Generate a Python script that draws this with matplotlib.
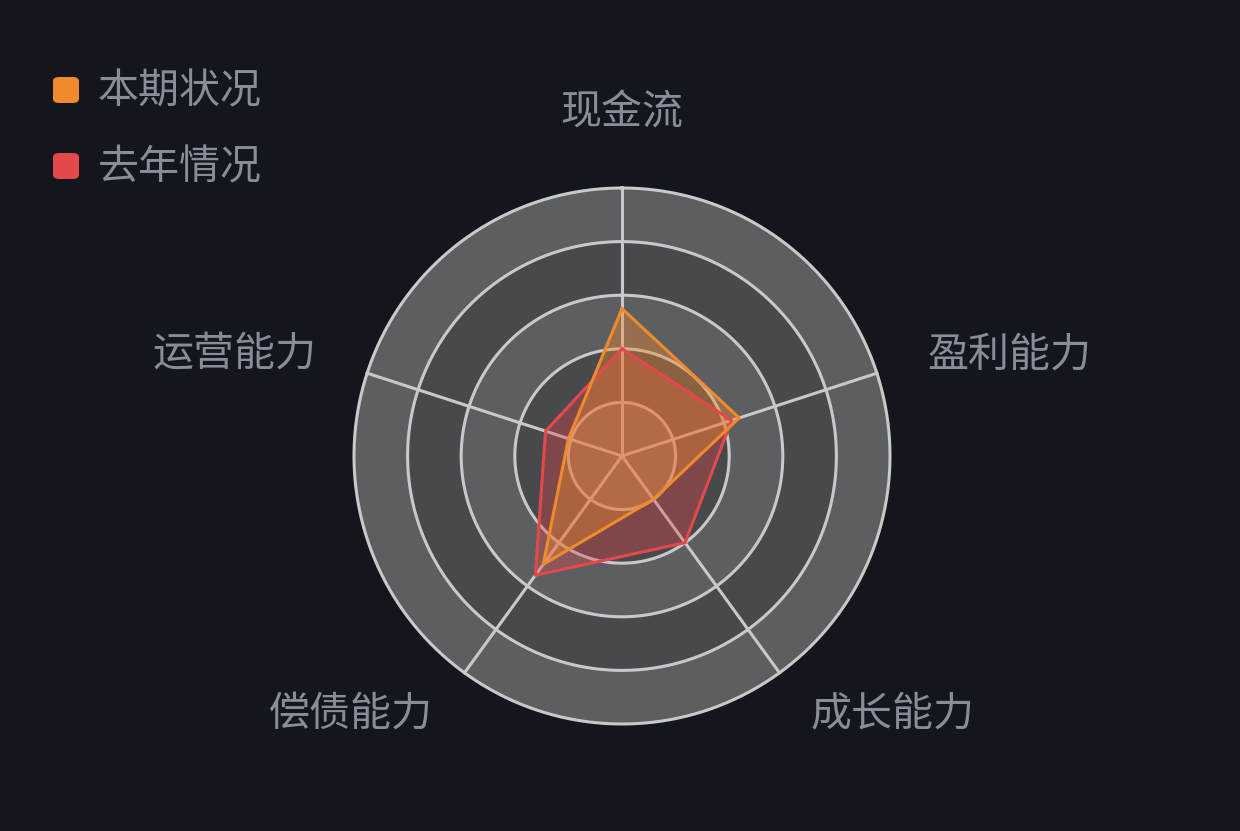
import numpy as np
import matplotlib.pyplot as plt
from matplotlib.patches import FancyBboxPatch

plt.rcParams['font.family'] = ['Noto Sans CJK SC', 'DejaVu Sans']

categories = ['现金流', '盈利能力', '成长能力', '偿债能力', '运营能力']
current = [55, 46, 20, 50, 21]
last_year = [40, 43, 40, 55, 30]
series_names = ['本期状况', '去年情况']
series_colors = ['#f08a2c', '#e5484a']
rmax = 100
n_rings = 5

bg = '#13161c'
text_col = '#888d98'

fig = plt.figure(figsize=(12.4, 8.31), dpi=100, facecolor=bg)
cx, cy, R = 622, 831 - 456, 268
pad = 1.03
Rp = R * pad
ax = fig.add_axes([(cx - Rp) / 1240, (cy - Rp) / 831, 2 * Rp / 1240, 2 * Rp / 831],
                  projection='polar')
ax.set_facecolor('none')
ax.set_theta_offset(np.pi / 2)
ax.set_theta_direction(-1)
ax.set_ylim(0, rmax * pad)
ax.grid(False)
ax.spines['polar'].set_visible(False)
ax.set_xticks([])
ax.set_yticks([])

tt = np.linspace(0, 2 * np.pi, 400)
step = rmax / n_rings
for i in range(n_rings):
    col = '#5c5e62' if i % 2 == 0 else '#47494d'
    ax.fill_between(tt, i * step, (i + 1) * step, color=col, lw=0, zorder=1)
    ax.plot(tt, np.full_like(tt, (i + 1) * step), color='#c9c9c9', lw=2.2, zorder=2)

angles = np.arange(len(categories)) * 2 * np.pi / len(categories)
for a in angles:
    ax.plot([a, a], [0, rmax], color='#c9c9c9', lw=2.2, zorder=2)

closed = np.append(angles, angles[0])
for vals, c, al in [(last_year, series_colors[1], 0.35), (current, series_colors[0], 0.4)]:
    v = np.append(vals, vals[0])
    ax.fill(closed, v, color=c, alpha=al, lw=0, zorder=3)
    ax.plot(closed, v, color=c, lw=2.2, zorder=4)

# category labels
label_pos = [(0, 128), (75.4, 149.6), (133.6, 139.6), (226.4, 139.6), (284.6, 149.6)]
for name, (th, r) in zip(categories, label_pos):
    ax.text(np.deg2rad(th), r, name, color=text_col, fontsize=29.5,
            ha='center', va='center', clip_on=False)

# legend
for i, (name, c) in enumerate(zip(series_names, series_colors)):
    yc = 831 - (90 + 76 * i)
    fig.patches.append(FancyBboxPatch((53 / 1240, (yc - 13) / 831), 26 / 1240, 26 / 831,
                                      boxstyle='round,pad=0,rounding_size=0.005',
                                      transform=fig.transFigure, facecolor=c, edgecolor='none'))
    fig.text(98 / 1240, (yc - 2) / 831, name, color=text_col, fontsize=29.5, ha='left', va='center')

fig.savefig('out.png', dpi=100, facecolor=bg)
